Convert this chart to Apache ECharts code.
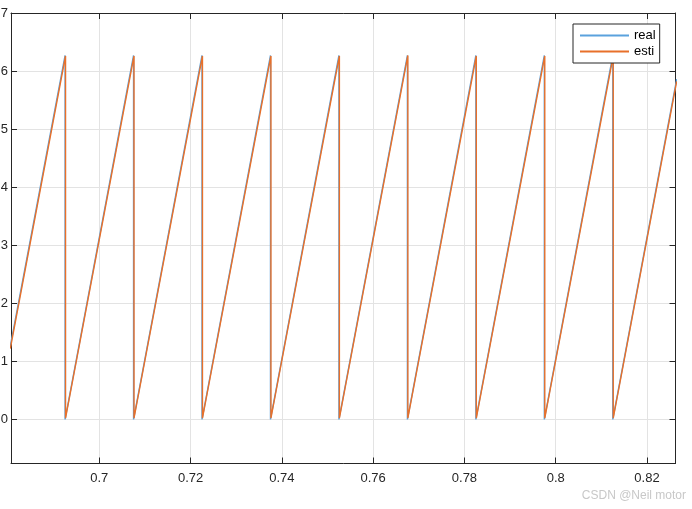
<!DOCTYPE html>
<html>
<head>
<meta charset="utf-8">
<script src="https://cdn.jsdelivr.net/npm/echarts@6/dist/echarts.min.js"></script>
<style>
html,body{margin:0;padding:0;background:#fff;}
#c{width:692px;height:509px;}
</style>
</head>
<body>
<div id="c"></div>
<script>
// Series values: [time, angle]
const realData = [
  [0.6805, 1.26], [0.6925, 6.27], [0.6925, 0.00],
  [0.7075, 6.27], [0.7075, 0.00],
  [0.7225, 6.27], [0.7225, 0.00],
  [0.7375, 6.27], [0.7375, 0.00],
  [0.7525, 6.27], [0.7525, 0.00],
  [0.7675, 6.27], [0.7675, 0.00],
  [0.7825, 6.27], [0.7825, 0.00],
  [0.7975, 6.27], [0.7975, 0.00],
  [0.8125, 6.27], [0.8125, 0.00],
  [0.8265, 5.86]
];
const estiData = [
  [0.6805, 1.22], [0.6926, 6.26], [0.6926, 0.02],
  [0.7076, 6.26], [0.7076, 0.02],
  [0.7226, 6.26], [0.7226, 0.02],
  [0.7376, 6.26], [0.7376, 0.02],
  [0.7526, 6.26], [0.7526, 0.02],
  [0.7676, 6.27], [0.7676, 0.02],
  [0.7826, 6.26], [0.7826, 0.02],
  [0.7976, 6.26], [0.7976, 0.02],
  [0.8126, 6.26], [0.8126, 0.02],
  [0.8265, 5.82]
];
const seriesNames = ['real', 'esti'];
const xTickValues = [0.7, 0.72, 0.74, 0.76, 0.78, 0.8, 0.82];
const yTickValues = [0, 1, 2, 3, 4, 5, 6, 7];

const X_MIN = 0.68065, X_MAX = 0.82624, Y_MIN = -0.76, Y_MAX = 7;
const axisCol = '#262626';
const gridCol = '#e3e3e3';
const FONT = 'Liberation Sans, Arial, sans-serif';

function xAxisCfg(pos, showLabel, showGrid) {
  return {
    type: 'value', position: pos, min: X_MIN, max: X_MAX,
    axisLine: {show: true, onZero: false, lineStyle: {color: axisCol, width: 1}},
    axisTick: {show: true, inside: true, length: 6, customValues: xTickValues, lineStyle: {color: axisCol}},
    axisLabel: {show: showLabel, customValues: xTickValues, margin: 8,
      color: axisCol, fontSize: 13, fontFamily: FONT,
      formatter: v => String(+(+v).toFixed(2))},
    splitLine: {show: showGrid, lineStyle: {color: gridCol, width: 1}}
  };
}
function yAxisCfg(pos, showLabel, showGrid) {
  return {
    type: 'value', position: pos, min: Y_MIN, max: Y_MAX,
    axisLine: {show: true, onZero: false, lineStyle: {color: axisCol, width: 1}},
    axisTick: {show: true, inside: true, length: 6, customValues: yTickValues, lineStyle: {color: axisCol}},
    axisLabel: {show: showLabel, customValues: yTickValues, margin: 3,
      color: axisCol, fontSize: 13, fontFamily: FONT,
      formatter: v => String(Math.round(v))},
    splitLine: {show: showGrid, lineStyle: {color: gridCol, width: 1}}
  };
}

const chart = echarts.init(document.getElementById('c'), null, {renderer: 'canvas'});
chart.setOption({
  animation: false,
  backgroundColor: '#ffffff',
  grid: {left: 11, right: 16.5, top: 13, bottom: 45.5, containLabel: false, outerBoundsMode: 'none'},
  xAxis: [xAxisCfg('bottom', true, true), xAxisCfg('top', false, false)],
  yAxis: [yAxisCfg('left', true, true), yAxisCfg('right', false, false)],
  legend: {
    orient: 'vertical', left: 573, top: 24,
    data: seriesNames.map(n => ({name: n, icon: 'rect'})),
    itemWidth: 49, itemHeight: 2, itemGap: 3,
    padding: [5, 4, 5, 7],
    backgroundColor: '#ffffff', borderColor: axisCol, borderWidth: 1,
    textStyle: {color: '#000', fontSize: 13, fontFamily: FONT}
  },
  graphic: [{
    type: 'text', right: 6, top: 490,
    style: {text: 'CSDN @Neil motor', fill: '#c8c8c8', fontSize: 12, fontFamily: FONT}
  }],
  series: [
    {name: seriesNames[0], type: 'line', data: realData, showSymbol: false, symbol: 'none',
     clip: true, lineStyle: {color: '#5aa2dd', width: 1.4}, itemStyle: {color: '#5aa2dd'}, z: 2},
    {name: seriesNames[1], type: 'line', data: estiData, showSymbol: false, symbol: 'none',
     clip: true, lineStyle: {color: '#e8702a', width: 1.4}, itemStyle: {color: '#e8702a'}, z: 3}
  ]
});
</script>
</body>
</html>
